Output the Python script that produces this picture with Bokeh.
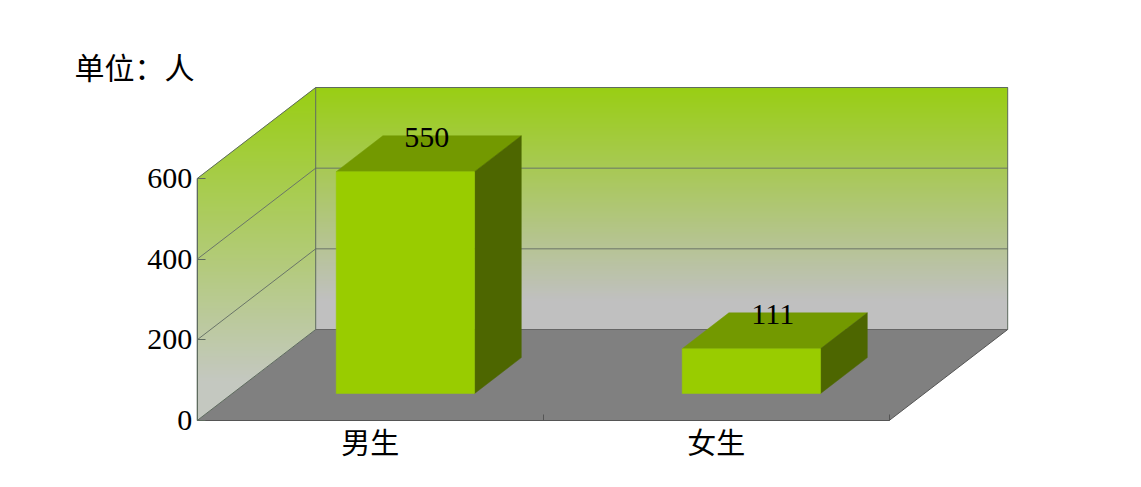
from bokeh.plotting import figure
from bokeh.models import LinearAxis, FixedTicker, Range1d, Label
from bokeh.core.properties import value
from bokeh.embed import file_html
from bokeh.resources import INLINE

categories = ["男生", "女生"]
counts = [550, 111]
y_ticks = [0, 200, 400, 600]
unit_label = "单位：人"

W, H = 1125, 471
PX_X = 346.0            # pixels per category
PX_V = 242.0 / 600.0    # pixels per person
X0_PX, Y0_PX = 196.7, 420
DEPTH_X = 118.5 / PX_X  # wall depth in category units
DEPTH_V = 91.0 / PX_V   # wall depth in value units
YMAX = y_ticks[-1]
SERIF = "Liberation Serif"
CJK = "Noto Sans CJK SC"

p = figure(width=W, height=H, output_backend="svg", toolbar_location=None,
           x_axis_type=None, y_axis_type=None, min_border=0,
           x_range=Range1d(-X0_PX / PX_X, (W - X0_PX) / PX_X),
           y_range=Range1d(-(H - Y0_PX) / PX_V, Y0_PX / PX_V))
p.outline_line_color = None
p.grid.visible = False


def P(x, v, d):
    return x + d * DEPTH_X, v + d * DEPTH_V


def mix(a, b, t):
    t = max(0.0, min(1.0, t))
    return "#%02x%02x%02x" % tuple(round(a[i] + (b[i] - a[i]) * t) for i in range(3))


GREEN = (153, 206, 20)
GRAY = (192, 192, 192)
top_v = YMAX + DEPTH_V
step = 1.0 / PX_V

# back wall gradient strips
xs, ys, cs = [], [], []
v = top_v
while v > DEPTH_V:
    lo = max(DEPTH_V, v - step * 1.6)
    xs.append([DEPTH_X, DEPTH_X + 2, DEPTH_X + 2, DEPTH_X])
    ys.append([v, v, lo, lo])
    cs.append(mix(GREEN, GRAY, (top_v - v) / (YMAX * 0.88)))
    v -= step

# side wall gradient strips (horizontal bands clipped to the parallelogram)
def d_span(y):
    return max(0.0, (y - YMAX) / DEPTH_V), min(1.0, y / DEPTH_V)


v = top_v
while v > 0:
    lo = max(0.0, v - step * 1.6)
    a0, a1 = d_span(v)
    b0, b1 = d_span(lo)
    xs.append([a0 * DEPTH_X, a1 * DEPTH_X, b1 * DEPTH_X, b0 * DEPTH_X])
    ys.append([v, v, lo, lo])
    cs.append(mix(GREEN, (196, 200, 192), (top_v - v) / (top_v * 0.88)))
    v -= step
p.patches(xs, ys, fill_color=cs, line_color=None)

# floor
n = len(categories)
fx, fy = zip(*[P(0, 0, 0), P(n, 0, 0), P(n, 0, 1), P(0, 0, 1)])
p.patch(list(fx), list(fy), fill_color="#808080", line_color=None)

EDGE = "#5e6b5e"
# gridlines on side and back walls
for t in y_ticks[1:-1] + [YMAX]:
    a = P(0, t, 0); b = P(0, t, 1); c = P(n, t, 1)
    if t != YMAX:
        p.line([a[0], b[0], c[0]], [a[1], b[1], c[1]], line_color="#6a7568", line_width=1)
    else:
        p.line([b[0], c[0]], [b[1], c[1]], line_color="#6a7568", line_width=1)

# wall outline
corners = [P(0, 0, 0), P(0, YMAX, 0), P(0, YMAX, 1), P(n, YMAX, 1), P(n, 0, 1), P(0, 0, 1), P(0, 0, 0)]
p.line([c[0] for c in corners], [c[1] for c in corners], line_color=EDGE, line_width=1)
a, b = P(0, YMAX, 1), P(0, 0, 1)
p.line([a[0], b[0]], [a[1], b[1]], line_color=EDGE, line_width=1)
a, b = P(n, 0, 0), P(n, 0, 1)
p.line([a[0], b[0]], [a[1], b[1]], line_color="#555555", line_width=1)
a, b = P(0, 0, 1), P(n, 0, 1)
p.line([a[0], b[0]], [a[1], b[1]], line_color="#666666", line_width=1)

# bars
D0, D1 = 0.297, 0.691
L, R = 0.30, 0.70
for i, c in enumerate(counts):
    x0, x1 = i + L, i + R
    faces = [
        ([(x0, c, D0), (x1, c, D0), (x1, c, D1), (x0, c, D1)], "#739900"),
        ([(x1, 0, D0), (x1, 0, D1), (x1, c, D1), (x1, c, D0)], "#4d6600"),
        ([(x0, 0, D0), (x1, 0, D0), (x1, c, D0), (x0, c, D0)], "#99cc00"),
    ]
    for pts, col in faces:
        q = [P(*pt) for pt in pts]
        p.patch([k[0] for k in q], [k[1] for k in q], fill_color=col, line_color=col, line_width=0.5)

# data labels (centred on each bar's top face)
lx, ly = zip(*[P(i + 0.5, c, (D0 + D1) / 2) for i, c in enumerate(counts)])
p.text(list(lx), list(ly), text=[str(c) for c in counts], text_font=value(SERIF),
       text_font_size="30px", text_color="#000000", text_align="center",
       text_baseline="middle", x_offset=-2, y_offset=-16)

# real axes, fixed at the front plane
yax = LinearAxis(ticker=FixedTicker(ticks=y_ticks), fixed_location=0, bounds=(0, YMAX))
yax.axis_line_color = EDGE
yax.major_tick_line_color = EDGE
yax.major_tick_in = 8
yax.major_tick_out = 0
yax.minor_tick_line_color = None
yax.major_label_text_font = SERIF
yax.major_label_text_font_size = "30px"
yax.major_label_text_color = "#000000"
yax.major_label_standoff = 5
p.add_layout(yax, "left")

xax = LinearAxis(ticker=FixedTicker(ticks=[i + 1 for i in range(n)]), fixed_location=0, bounds=(0, n))
xax.axis_line_color = "#555555"
xax.major_tick_line_color = "#555555"
xax.major_tick_in = 6
xax.major_tick_out = 0
xax.minor_tick_line_color = None
xax.major_label_text_color = None
xax.major_label_text_font_size = "1px"
p.add_layout(xax, "below")

xlab = LinearAxis(ticker=FixedTicker(ticks=[i + 0.5 for i in range(n)]), fixed_location=0,
                  major_label_overrides={i + 0.5: c for i, c in enumerate(categories)})
xlab.axis_line_color = None
xlab.major_tick_line_color = None
xlab.minor_tick_line_color = None
xlab.major_label_text_font = CJK
xlab.major_label_text_font_size = "29px"
xlab.major_label_text_color = "#000000"
xlab.major_label_standoff = -7
p.add_layout(xlab, "below")

p.add_layout(Label(x=74, y=H - 76 + 8 - 19, x_units="screen", y_units="screen", text=unit_label,
                   text_font=CJK, text_font_size="30px", text_color="#000000"))

open("out.html", "w").write(file_html(p, INLINE))
